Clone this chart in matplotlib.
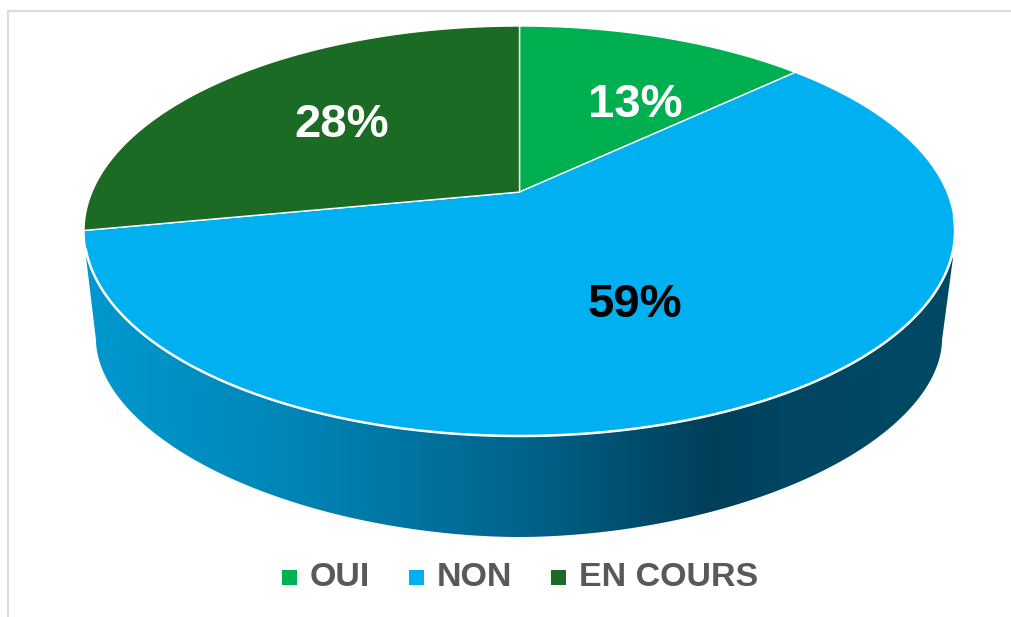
import numpy as np
import matplotlib
matplotlib.use('Agg')
import matplotlib.pyplot as plt
from matplotlib.colors import LinearSegmentedColormap
from matplotlib.patches import Patch, Polygon

# Data
labels = ['OUI', 'NON', 'EN COURS']
values = [13, 59, 28]
colors = ['#00B050', '#00B0F0', '#1B6B25']
label_colors = ['white', 'black', 'white']

# Geometry of the tilted pie, in pixels
cx, cy, rx, ry = 519.5, 231, 435.5, 205
tilt = -0.19  # pushes the apex up, back of the disc looks compressed
bottom_cx, bottom_cy, bottom_rx, bottom_ry = 519, 340, 423, 197
bulge = 1.88  # lower outline is a bit flatter than a true ellipse


def project(theta):
    # angle clockwise from 12 o'clock -> pixel position on the tilted disc
    x = np.sin(theta)
    y = -np.cos(theta)
    d = 1 + tilt * y
    return (cx + rx * np.sqrt(1 - tilt ** 2) * x / d,
            cy + ry * (y + tilt) / d)


def apex():
    return cx, cy + ry * tilt


plt.rcParams['font.family'] = ['Liberation Sans', 'DejaVu Sans']
fig = plt.figure(figsize=(10.11, 6.17), dpi=100)
ax = fig.add_axes([0, 0, 1, 1])
ax.set_xlim(0, 1011)
ax.set_ylim(617, 0)
ax.axis('off')

# Light frame, only top and left show in the crop
ax.plot([1011, 7.5, 7.5], [10.5, 10.5, 617], color='#DDDDDD', lw=1.6)

# Side of the pie with its horizontal gradient
t = np.linspace(np.pi, 0, 300)
c, s = np.cos(t), np.sin(t)
side_x = bottom_cx + bottom_rx * np.sign(c) * np.abs(c) ** (2 / bulge)
side_y = bottom_cy + bottom_ry * s ** (2 / bulge)
side_pts = np.column_stack([
    np.r_[86, side_x, 953],
    np.r_[257, side_y, 258],
])
side = Polygon(side_pts, closed=True, facecolor='none', edgecolor='none')
ax.add_patch(side)
side_cmap = LinearSegmentedColormap.from_list('side', [
    (0.0, '#0098CF'), (0.22, '#0087B8'), (0.5, '#00648C'),
    (0.72, '#003F5A'), (0.8, '#004561'), (1.0, '#004A66'),
])
grad = ax.imshow(np.linspace(0, 1, 512).reshape(1, -1), cmap=side_cmap,
                 extent=[86, 953, 540, 250], aspect='auto', zorder=1)
grad.set_clip_path(side)
ax.set_xlim(0, 1011)
ax.set_ylim(617, 0)

# Top of the pie
edges = np.r_[0, np.cumsum(values)] / sum(values) * 2 * np.pi
for i, color in enumerate(colors):
    th = np.linspace(edges[i], edges[i + 1], 200)
    px, py = project(th)
    ax_, ay_ = apex()
    pts = np.column_stack([np.r_[ax_, px], np.r_[ay_, py]])
    ax.add_patch(Polygon(pts, closed=True, facecolor=color,
                         edgecolor='white', lw=1.0, zorder=2))

# White rim between top face and side
rim = np.linspace(np.radians(97), np.radians(254), 300)
rim_x, rim_y = project(rim)
ax.plot(rim_x, rim_y, color='white', lw=1.8, zorder=3)

# Percent labels
label_pos = [(635, 105), (635, 305), (342, 125)]
for val, pos, col in zip(values, label_pos, label_colors):
    ax.text(pos[0], pos[1], f'{val}%', color=col, fontsize=34,
            fontweight='bold', ha='center', va='center', zorder=4)

# Legend
handles = [Patch(facecolor=col, edgecolor='none', label=l)
           for col, l in zip(colors, labels)]
leg = ax.legend(handles=handles, loc='center', ncol=3, frameon=False,
                bbox_to_anchor=(520.2, 578), bbox_transform=ax.transData,
                prop={'size': 24.5, 'weight': 'bold'}, labelcolor='#595959',
                handlelength=0.43, handleheight=0.29, handletextpad=0.38,
                columnspacing=1.15, borderpad=0, borderaxespad=0)
# squares sit a little lower than the text centre
for patch in leg.get_patches():
    patch.set_y(patch.get_y() - 2.5)

plt.savefig('out.png', dpi=100)
